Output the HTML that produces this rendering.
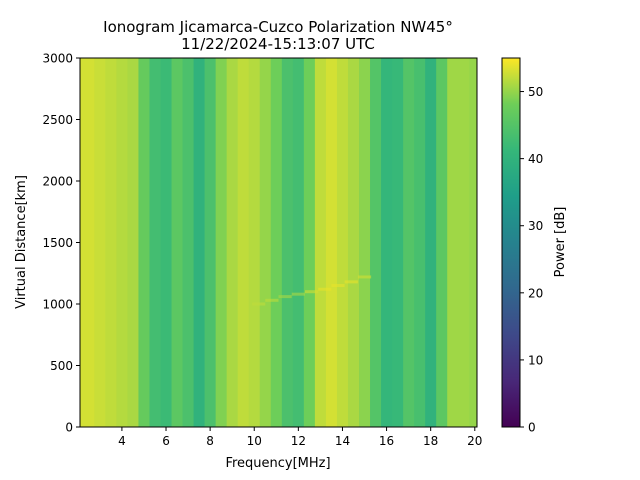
<!DOCTYPE html>
<html><head><meta charset="utf-8">
<style>
body{margin:0;background:#fff;}
svg{display:block;font-family:"DejaVu Sans","Liberation Sans",sans-serif;}
</style></head>
<body>
<svg id="chart" width="640" height="480" viewBox="0 0 640 480">
<defs>
<linearGradient id="vir" x1="0" y1="1" x2="0" y2="0">
<stop offset="0" stop-color="#440154"/><stop offset="0.125" stop-color="#482878"/>
<stop offset="0.25" stop-color="#3e4989"/><stop offset="0.375" stop-color="#31688e"/>
<stop offset="0.5" stop-color="#26828e"/><stop offset="0.625" stop-color="#1f9e89"/>
<stop offset="0.75" stop-color="#35b779"/><stop offset="0.875" stop-color="#6ece58"/>
<stop offset="1" stop-color="#fde725"/>
</linearGradient>
</defs>
<text x="278" y="32" text-anchor="middle" font-size="15">Ionogram Jicamarca-Cuzco Polarization NW45°</text>
<text x="278" y="49" text-anchor="middle" font-size="15">11/22/2024-15:13:07 UTC</text>
<g id="cells"></g>
<rect x="80" y="58" width="397" height="369" fill="none" stroke="#000" stroke-width="1"/>
<g id="xticks"></g>
<g id="yticks"></g>
<text x="278" y="467" text-anchor="middle" font-size="13">Frequency[MHz]</text>
<text transform="translate(25,242) rotate(-90)" text-anchor="middle" font-size="13">Virtual Distance[km]</text>
<rect x="502" y="58" width="18" height="369" fill="url(#vir)" stroke="#000" stroke-width="1"/>
<g id="cticks"></g>
<text transform="translate(564,242) rotate(-90)" text-anchor="middle" font-size="13">Power [dB]</text>
</svg>
<script>
const freqs=[2.0,2.5,3.0,3.5,4.0,4.5,5.0,5.5,6.0,6.5,7.0,7.5,8.0,8.5,9.0,9.5,10.0,10.5,11.0,11.5,12.0,12.5,13.0,13.5,14.0,14.5,15.0,15.5,16.0,16.5,17.0,17.5,18.0,18.5,19.0,19.5,20.0];
const power=[53,53,52.5,52,51.5,51,47,43,42,46,44,40,44,49,51,52,51.5,50,48,44,43,48,52,53,52,51,49.5,45,41,41.5,45,43.5,40,46,50.5,50.5,50];
const traceFreqs=[10.2,10.8,11.4,12.0,12.6,13.2,13.8,14.4,15.0];
const traceDist=[1000,1030,1060,1080,1100,1120,1150,1180,1220];
const tracePower=[52,52,51,51,53,54,54,54,53];
const xTicks=[4,6,8,10,12,14,16,18,20];
const yTicks=[0,500,1000,1500,2000,2500,3000];
const cTicks=[0,10,20,30,40,50];
const NS="http://www.w3.org/2000/svg";
const X0=80,X1=477,Y0=427,Y1=58,FMIN=2.1,FMAX=20.1,DMAX=3000,PMAX=55;
const xs=f=>X0+(f-FMIN)/(FMAX-FMIN)*(X1-X0);
const ys=d=>Y0-d/DMAX*(Y0-Y1);
const cs=p=>Y0-p/PMAX*(Y0-Y1);
const vir=["#440154","#482878","#3e4989","#31688e","#26828e","#1f9e89","#35b779","#6ece58","#fde725"];
function hex(h){return [1,3,5].map(i=>parseInt(h.substr(i,2),16));}
function color(p){let t=Math.max(0,Math.min(1,p/PMAX))*8;let i=Math.min(7,Math.floor(t)),f=t-i;
const a=hex(vir[i]),b=hex(vir[i+1]);return "rgb("+a.map((v,k)=>Math.round(v+(b[k]-v)*f)).join(",")+")";}
function mk(tag,attrs,parent){const e=document.createElementNS(NS,tag);for(const k in attrs)e.setAttribute(k,attrs[k]);parent.appendChild(e);return e;}
const cells=document.getElementById('cells');
freqs.forEach((f,i)=>{
  const xa=Math.max(X0,xs(f-0.25)),xb=Math.min(X1,xs(f+0.25));
  const r=mk('rect',{x:xa,y:Y1,width:xb-xa+0.5,height:Y0-Y1,fill:color(power[i])},cells);
  
  
});
traceFreqs.forEach((f,i)=>{
  const c=mk('rect',{x:xs(f-0.3),y:ys(traceDist[i])-1.5,width:xs(f+0.3)-xs(f-0.3),height:3,fill:color(tracePower[i]),opacity:0.6},cells);
  
  
});
const xg=document.getElementById('xticks');
xTicks.forEach(t=>{const x=xs(t);
  const l=mk('line',{x1:x,x2:x,y1:Y0,y2:Y0+4,stroke:'#000'},xg);
  
  const s=mk('text',{x:x,y:Y0+18,'text-anchor':'middle','font-size':12},xg);s.textContent=t;
  });
const yg=document.getElementById('yticks');
yTicks.forEach(t=>{const y=ys(t);
  const l=mk('line',{x1:X0-4,x2:X0,y1:y,y2:y,stroke:'#000'},yg);
  
  const s=mk('text',{x:X0-7,y:y+4.5,'text-anchor':'end','font-size':12},yg);s.textContent=t;
  });
const cg=document.getElementById('cticks');
cTicks.forEach(t=>{const y=cs(t);
  const l=mk('line',{x1:520,x2:524,y1:y,y2:y,stroke:'#000'},cg);
  
  const s=mk('text',{x:528,y:y+4.5,'font-size':12},cg);s.textContent=t;
  });
</script>
</body></html>
